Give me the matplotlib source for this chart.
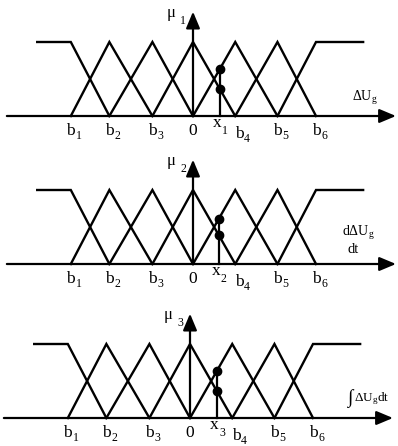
import numpy as np
import matplotlib
matplotlib.use('Agg')
import matplotlib.pyplot as plt

plt.rcParams['font.family'] = ['Liberation Serif', 'DejaVu Serif']
plt.rcParams['mathtext.fontset'] = 'custom'
plt.rcParams['mathtext.rm'] = 'Liberation Serif'
plt.rcParams['mathtext.it'] = 'Liberation Serif:italic'

# ---- data ----
breakpoints = [-2.98, -2.04, -0.99, 0.0, 1.03, 2.06, 3.0]
bp_names = ['b', 'b', 'b', '0', 'b', 'b', 'b']
bp_subs = ['1', '2', '3', '', '4', '5', '6']
left_plateau_start = -3.8
right_plateau_end = 4.15
x_inputs = [0.66, 0.63, 0.66]
input_subs = ['1', '2', '3']
mu_subs = ['1', '2', '3']
axis_start = -4.54
axis_tip = 4.95
vert_tip = 1.41

b = breakpoints
member_sets = [
    ([left_plateau_start, b[0], b[1]], [1, 1, 0]),
    ([b[0], b[1], b[2]], [0, 1, 0]),
    ([b[1], b[2], b[3]], [0, 1, 0]),
    ([b[2], b[3], b[4]], [0, 1, 0]),
    ([b[3], b[4], b[5]], [0, 1, 0]),
    ([b[4], b[5], b[6]], [0, 1, 0]),
    ([b[5], b[6], right_plateau_end], [0, 1, 1]),
]

# ---- layout ----
W, H = 398, 446
UX, UY = 41.0, 74.0
panels = [dict(axis_y=116, zero_x=193), dict(axis_y=264, zero_x=193), dict(axis_y=418, zero_x=190)]
YLO, YHI = -0.37, 1.5

fig = plt.figure(figsize=(W / 100, H / 100), dpi=100)

def px(d):
    return d / UX

def py(d):
    return d / UY

for k, p in enumerate(panels):
    bottom_px = p['axis_y'] - YLO * UY
    height_px = (YHI - YLO) * UY
    ax = fig.add_axes([0, 1 - bottom_px / H, 1, height_px / H])
    ax.set_xlim(-p['zero_x'] / UX, (W - p['zero_x']) / UX)
    ax.set_ylim(YLO, YHI)
    ax.axis('off')

    # membership functions
    for xs, ys in member_sets:
        ax.plot(xs, ys, color='black', lw=1.7, solid_joinstyle='miter', clip_on=False)

    # horizontal axis with arrow
    ax.annotate('', xy=(axis_tip, 0), xytext=(axis_start, 0),
                arrowprops=dict(arrowstyle='-|>,head_length=1.0,head_width=0.42',
                                mutation_scale=10, lw=1.6, color='black',
                                shrinkA=0, shrinkB=0), annotation_clip=False)
    # vertical axis with arrow
    ax.annotate('', xy=(0, vert_tip), xytext=(0, 0),
                arrowprops=dict(arrowstyle='-|>,head_length=1.0,head_width=0.42',
                                mutation_scale=10, lw=1.6, color='black',
                                shrinkA=0, shrinkB=0), annotation_clip=False)

    # input line and membership dots
    xi = x_inputs[k]
    vals = [np.interp(xi, xs, ys) for xs, ys in member_sets]
    vals = [v for v in vals if v > 0]
    ax.plot([xi, xi], [0, max(vals)], color='black', lw=1.6)
    ax.plot([xi] * len(vals), vals, 'o', color='black', ms=6)

    # breakpoint labels
    for i, (bx, nm, sb) in enumerate(zip(b, bp_names, bp_subs)):
        dx, dy = 0, 0
        if i == 4:
            dx, dy = 4, 3
        ax.text(bx + px(dx), py(-15 - dy), nm, ha='center', va='center', fontsize=12.5)
        if sb:
            ax.text(bx + px(dx + 8), py(-20 - dy), sb, ha='center', va='center', fontsize=8.5)

    # input label
    ax.text(xi - px(3), py(-7), 'x', ha='center', va='center', fontsize=12.5)
    ax.text(xi + px(5), py(-15), input_subs[k], ha='center', va='center', fontsize=8.5)

    # mu label
    ax.text(px(-22), vert_tip + py(-1), 'μ', ha='center', va='center', fontsize=12)
    ax.text(px(-10), vert_tip + py(-9), mu_subs[k], ha='center', va='center', fontsize=8.5)

    # variable labels
    if k == 0:
        ax.text(px(172), py(18), r'$\mathrm{\Delta U}_{\mathrm{g}}$', ha='center', va='center', fontsize=10)
    elif k == 1:
        ax.text(px(165), py(31), r'$\mathrm{d\Delta U}_{\mathrm{g}}$', ha='center', va='center', fontsize=10)
        ax.text(px(160), py(14), 'dt', ha='center', va='center', fontsize=10.5)
    else:
        ax.text(px(160), py(19), '∫', ha='center', va='center', fontsize=14)
        ax.text(px(182), py(19), r'$\mathrm{\Delta U}_{\mathrm{g}}\mathrm{dt}$', ha='center', va='center', fontsize=9.5)

fig.savefig('out.png', dpi=100)
